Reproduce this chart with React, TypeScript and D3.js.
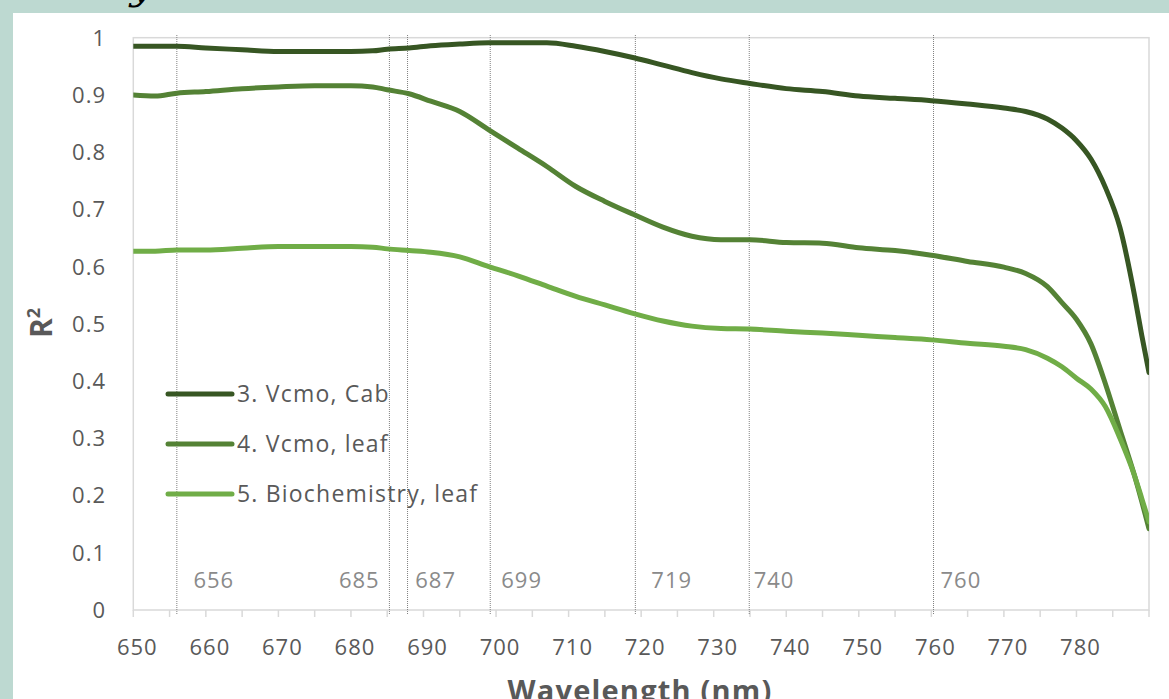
import React from "react";
import * as d3 from "d3";

// wavelength samples (nm)
const wavelengths = [
  650, 653, 656, 660, 665, 670, 675, 680, 683, 685, 688, 691, 695, 699, 703, 707, 711, 715, 719, 723,
  727, 731, 735, 740, 745, 750, 755, 760, 765, 770, 773, 776, 778, 780, 782, 784, 786, 788, 789, 790,
];
const vcmoCab = [
  0.985, 0.985, 0.985, 0.982, 0.979, 0.976, 0.976, 0.976, 0.977, 0.98, 0.982, 0.986, 0.989, 0.991, 0.991,
  0.991, 0.985, 0.976, 0.965, 0.952, 0.939, 0.928, 0.92, 0.911, 0.906, 0.898, 0.894, 0.89, 0.884, 0.877,
  0.871, 0.858, 0.842, 0.82, 0.788, 0.738, 0.668, 0.55, 0.48, 0.415,
];
const vcmoLeaf = [
  0.9, 0.898, 0.903, 0.906, 0.911, 0.914, 0.916, 0.916, 0.914, 0.909, 0.902, 0.889, 0.871, 0.839, 0.807,
  0.775, 0.74, 0.714, 0.691, 0.669, 0.653, 0.647, 0.647, 0.642, 0.641, 0.633, 0.628, 0.62, 0.609, 0.599,
  0.588, 0.565, 0.537, 0.508, 0.465, 0.395, 0.315, 0.235, 0.19, 0.142,
];
const biochemLeaf = [
  0.627, 0.627, 0.629, 0.629, 0.632, 0.635, 0.635, 0.635, 0.634, 0.631, 0.628, 0.625, 0.617, 0.6, 0.584,
  0.566, 0.548, 0.533, 0.518, 0.505, 0.496, 0.492, 0.491, 0.487, 0.484, 0.48, 0.476, 0.472, 0.466, 0.461,
  0.455, 0.44, 0.425, 0.405, 0.386, 0.355, 0.3, 0.235, 0.195, 0.154,
];
const seriesNames = ["3. Vcmo, Cab", "4. Vcmo, leaf", "5. Biochemistry, leaf"];
const seriesColors = ["#375623", "#548235", "#70ad47"];

// dotted reference lines and their labels
const markerWavelengths = [656, 685.3, 687.8, 699.2, 719.2, 734.9, 760.3];
const markerLabels = ["656", "685", "687", "699", "719", "740", "760"];

const yTicks = [0, 0.1, 0.2, 0.3, 0.4, 0.5, 0.6, 0.7, 0.8, 0.9, 1];
const xTickLabels = [650, 660, 670, 680, 690, 700, 710, 720, 730, 740, 750, 760, 770, 780];
const xMinorTicks = d3.range(650, 791, 5);

const W = 1169;
const H = 699;
const FONT = "'Open Sans', 'Liberation Sans', sans-serif";

export default function App() {
  const left = 133.3, right = 1149, top = 37.7, bottom = 610;
  const x = d3.scaleLinear().domain([650, 790]).range([left, right]);
  const y = d3.scaleLinear().domain([0, 1]).range([bottom, top]);

  const line = d3
    .line<number>()
    .x((_, i) => x(wavelengths[i]))
    .y((d) => y(d))
    .curve(d3.curveMonotoneX);

  const series = [vcmoCab, vcmoLeaf, biochemLeaf];

  // label placement relative to each dotted line
  const labelDx = [16.6, -9.7, 7.7, 11, 16, 4.4, 7];

  return (
    <svg width={W} height={H} style={{ position: "absolute", left: 0, top: 0 }}>
      <rect x={0} y={0} width={W} height={H} fill="#bdd9d1" />
      <rect x={13} y={13} width={W - 13} height={H - 13} fill="#ffffff" />
      <text x={130} y={-1} fontFamily="'DejaVu Serif', serif" fontStyle="italic" fontSize={40} fill="#000">
        y
      </text>

      <defs>
        <clipPath id="plotClip">
          <rect x={left} y={top - 10} width={right - left} height={bottom - top + 10} />
        </clipPath>
      </defs>

      {/* plot frame */}
      <rect x={left} y={top} width={right - left} height={bottom - top} fill="none" stroke="#d9d9d9" strokeWidth={1.5} />
      {xMinorTicks.map((t) => (
        <line key={t} x1={x(t)} x2={x(t)} y1={bottom} y2={bottom + 7} stroke="#d9d9d9" strokeWidth={1.5} />
      ))}

      {/* dotted reference lines */}
      {markerWavelengths.map((m, i) => (
        <g key={i}>
          <line x1={x(m)} x2={x(m)} y1={35} y2={614} stroke="#808080" strokeWidth={1} strokeDasharray="1,1" />
          <text
            x={x(m) + labelDx[i]}
            y={588}
            textAnchor={labelDx[i] < 0 ? "end" : "start"}
            fontFamily={FONT}
            fontSize={22}
            letterSpacing={1}
            fill="#8a8a8a"
          >
            {markerLabels[i]}
          </text>
        </g>
      ))}

      {/* y tick labels */}
      {yTicks.map((t) => (
        <text
          key={t}
          x={106}
          y={y(t)}
          dy="0.36em"
          textAnchor="end"
          fontFamily={FONT}
          fontSize={22}
          letterSpacing={1}
          fill="#595959"
        >
          {String(Math.round(t * 10) / 10)}
        </text>
      ))}

      {/* x tick labels */}
      {xTickLabels.map((t) => (
        <text
          key={t}
          x={x(t) + 4}
          y={655}
          textAnchor="middle"
          fontFamily={FONT}
          fontSize={22}
          letterSpacing={1}
          fill="#595959"
        >
          {t}
        </text>
      ))}

      {/* series */}
      <g clipPath="url(#plotClip)">
        {series.map((s, i) => (
          <path
            key={i}
            d={line(s) || ""}
            fill="none"
            stroke={seriesColors[i]}
            strokeWidth={5}
            strokeLinejoin="round"
            strokeLinecap="round"
          />
        ))}
      </g>

      {/* legend */}
      {seriesNames.map((name, i) => {
        const ly = 394 + i * 50;
        return (
          <g key={name}>
            <line x1={168} x2={232} y1={ly} y2={ly} stroke={seriesColors[i]} strokeWidth={5} strokeLinecap="round" />
            <text x={237} y={ly} dy="0.36em" fontFamily={FONT} fontSize={23} letterSpacing={1.2} fill="#595959">
              {name}
            </text>
          </g>
        );
      })}

      {/* axis titles */}
      <text
        transform={`translate(52, 323) rotate(-90)`}
        textAnchor="middle"
        fontFamily={FONT}
        fontWeight="bold"
        fontSize={30}
        fill="#595959"
      >
        R<tspan fontSize={18} dy={-12}>2</tspan>
      </text>
      <text
        x={640}
        y={701}
        textAnchor="middle"
        fontFamily={FONT}
        fontWeight="bold"
        fontSize={29}
        letterSpacing={1.2}
        fill="#595959"
      >
        Wavelength (nm)
      </text>
    </svg>
  );
}
